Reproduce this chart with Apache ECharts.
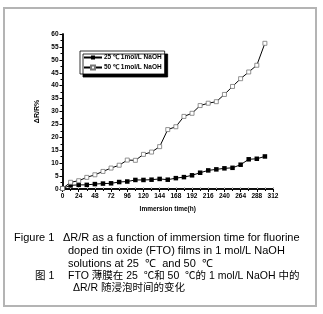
<!DOCTYPE html>
<html>
<head>
<meta charset="utf-8">
<script src="https://cdn.jsdelivr.net/npm/echarts@6/dist/echarts.min.js"></script>
<style>
  html, body { margin: 0; padding: 0; background: #fff; }
  #chart { width: 323px; height: 314px; }
</style>
</head>
<body>
<div id="chart"></div>
<script>
// immersion time (h)
var hours = [0, 12, 24, 36, 48, 60, 72, 84, 96, 108, 120, 132, 144, 156, 168, 180, 192, 204, 216, 228, 240, 252, 264, 276, 288, 300];
// dR/R % at 25 C
var r25 = [0.2, 1.4, 1.6, 1.6, 1.9, 2.1, 2.2, 2.7, 2.9, 3.5, 3.5, 3.6, 3.9, 3.6, 4.2, 4.6, 5.3, 6.3, 7.2, 7.6, 8.0, 8.2, 9.4, 11.5, 11.7, 12.6];
// dR/R % at 50 C
var r50 = [0.2, 2.6, 3.2, 4.5, 5.5, 6.8, 8.1, 9.2, 11.2, 11.1, 13.4, 14.3, 16.4, 23.0, 24.1, 28.1, 29.3, 32.3, 33.2, 33.8, 36.6, 39.7, 42.7, 45.3, 47.9, 56.4];
var seriesNames = ['25 ℃ 1mol/L NaOH', '50 ℃ 1mol/L NaOH'];

var captionEn = [
  'ΔR/R as a function of immersion time for fluorine',
  'doped tin oxide (FTO) films in 1 mol/L NaOH',
  'solutions at 25  ℃  and 50  ℃'
];
var captionZh = [
  'FTO 薄膜在 25  ℃和 50  ℃的 1 mol/L NaOH 中的',
  'ΔR/R 随浸泡时间的变化'
];

function pairs(xs, ys) {
  return xs.map(function (x, i) { return [x, ys[i]]; });
}

var chart = echarts.init(document.getElementById('chart'));
var axisFont = { color: '#000', fontSize: 6.5, fontWeight: 'bold', fontFamily: 'Liberation Sans' };
var capFont = 'Liberation Sans';
var zhFont = '"Liberation Sans", "Noto Sans CJK SC"';

var option = {
  backgroundColor: '#fff',
  animation: false,
  grid: { left: 62.5, right: 50, top: 34, bottom: 125 },
  legend: {
    left: 80,
    top: 51,
    orient: 'vertical',
    itemGap: 3,
    itemWidth: 18,
    itemHeight: 5,
    padding: [3, 3, 3, 3],
    backgroundColor: '#fff',
    borderColor: '#000',
    borderWidth: 0.8,
    borderRadius: 0,
    shadowColor: '#000',
    shadowBlur: 0,
    shadowOffsetX: 3,
    shadowOffsetY: 3,
    textStyle: { color: '#000', fontSize: 6.5, fontWeight: 'bold', fontFamily: 'Liberation Sans', padding: [0, 0, 0, -3] },
    data: seriesNames
  },
  xAxis: [{
    type: 'value',
    min: 0, max: 312, interval: 24,
    name: 'Immersion time(h)',
    nameLocation: 'middle',
    nameGap: 17,
    nameTextStyle: axisFont,
    axisLine: { show: true, lineStyle: { color: '#000', width: 1.5 } },
    axisTick: { show: true, length: 3, lineStyle: { color: '#000', width: 1 } },
    minorTick: { show: true, splitNumber: 2, length: 2, lineStyle: { color: '#000' } },
    axisLabel: Object.assign({ margin: 4 }, axisFont),
    splitLine: { show: false }
  }, {
    type: 'value',
    position: 'top',
    min: 0, max: 312, interval: 24,
    axisLine: { show: true, lineStyle: { color: '#000', width: 1.5 } },
    axisTick: { show: true, length: 2, lineStyle: { color: '#bbb', width: 1 } },
    minorTick: { show: true, splitNumber: 2, length: 2, lineStyle: { color: '#bbb' } },
    axisLabel: { show: false },
    splitLine: { show: false }
  }],
  yAxis: [{
    type: 'value',
    min: 0, max: 60, interval: 5,
    name: 'ΔR/R%',
    nameLocation: 'middle',
    nameRotate: 90,
    nameGap: 17,
    nameTextStyle: { color: '#000', fontSize: 7, fontWeight: 'bold', fontFamily: 'Liberation Sans' },
    axisLine: { show: true, lineStyle: { color: '#000', width: 1.5 } },
    axisTick: { show: true, length: 3, lineStyle: { color: '#000', width: 1 } },
    minorTick: { show: true, splitNumber: 2, length: 2, lineStyle: { color: '#000' } },
    axisLabel: Object.assign({ margin: 4 }, axisFont),
    splitLine: { show: false }
  }, {
    type: 'value',
    position: 'right',
    min: 0, max: 60, interval: 5,
    axisLine: { show: true, lineStyle: { color: '#000', width: 1.5 } },
    axisTick: { show: false },
    axisLabel: { show: false },
    splitLine: { show: false }
  }],
  series: [{
    name: seriesNames[0],
    type: 'line',
    symbol: 'rect',
    symbolSize: 4.5,
    lineStyle: { color: '#000', width: 1 },
    itemStyle: { color: '#000', borderColor: '#000', borderWidth: 0 },
    data: pairs(hours, r25)
  }, {
    name: seriesNames[1],
    type: 'line',
    symbol: 'rect',
    symbolSize: 4,
    lineStyle: { color: '#000', width: 1 },
    itemStyle: { color: '#fff', borderColor: '#777', borderWidth: 0.8 },
    data: pairs(hours, r50)
  }],
  graphic: [
    {
      type: 'rect', silent: true, z: -1,
      shape: { x: 4, y: 8, width: 312, height: 298 },
      style: { fill: 'none', stroke: '#b4b4b4', lineWidth: 2 }
    },
    { type: 'text', left: 14, top: 232, style: { text: 'Figure 1', font: '11px ' + capFont, fill: '#000' } },
    { type: 'text', left: 63, top: 232, style: { text: captionEn[0], font: '11px ' + capFont, fill: '#000' } },
    { type: 'text', left: 68, top: 245, style: { text: captionEn[1], font: '11px ' + capFont, fill: '#000' } },
    { type: 'text', left: 68, top: 258, style: { text: captionEn[2], font: '11px ' + capFont, fill: '#000' } },
    { type: 'text', left: 35, top: 271, style: { text: '图 1', font: '10.5px ' + zhFont, fill: '#000' } },
    { type: 'text', left: 68, top: 271, style: { text: captionZh[0], font: '10.5px ' + zhFont, fill: '#000' } },
    { type: 'text', left: 73, top: 283, style: { text: captionZh[1], font: '10.5px ' + zhFont, fill: '#000' } }
  ]
};

chart.setOption(option);
</script>
</body>
</html>
